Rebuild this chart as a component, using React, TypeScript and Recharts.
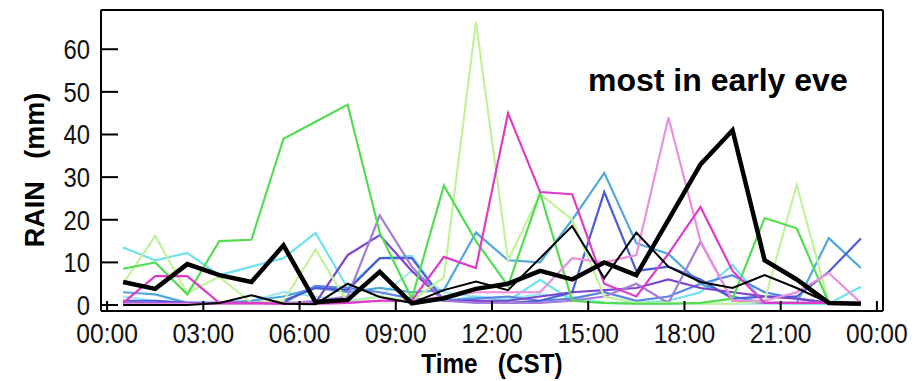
import React from 'react';
import { LineChart, Line, XAxis, YAxis } from 'recharts';

// half-hour centres of each hourly bin
const hours = [0.5, 1.5, 2.5, 3.5, 4.5, 5.5, 6.5, 7.5, 8.5, 9.5, 10.5, 11.5,
  12.5, 13.5, 14.5, 15.5, 16.5, 17.5, 18.5, 19.5, 20.5, 21.5, 22.5, 23.5];

const green = [8.5, 10, 2.5, 15, 15.3, 39, 43, 47, 17, 1.5, 28, 15, 4.5, 26.3, 1, 0.5, 0.3, 0.3, 0.5, 1.5, 20.4, 18, 0.5, 0.3];
const lightGreen = [5, 16.2, 2.8, 6.6, 0.5, 1, 13, 0.5, 2, 1, 6.5, 66.4, 10.5, 26, 20, 2, 0.5, 0.5, 0.3, 0.3, 1, 28.2, 0.5, 0.3];
const cyan = [13.5, 10.5, 12.2, 7, 9, 11, 16.9, 4, 11, 11.5, 1, 2, 1, 5.9, 1, 0.5, 0.5, 1, 3, 9.4, 0.5, 0.3, 0.3, 4.3];
const paleCyan = [2, 1, 0.5, 0.5, 1, 3, 2, 1, 2, 8, 3, 2, 1.5, 2.5, 2, 0.5, 0.3, 0.3, 0.3, 0.3, 0.3, 0.3, 0.3, 0.3];
const lightBlue = [3, 2.5, 0.5, 0.5, 1, 2, 4, 3, 4, 3, 3.5, 17, 10.5, 10, 20, 31, 14.5, 12, 5, 2, 0.5, 0.5, 15.7, 8.7];
const blue = [1, 1, 0.5, 0.5, 0.5, 1, 4, 3.5, 11, 11, 1, 1, 0.5, 1, 3, 26.5, 8, 9, 6, 1.5, 2, 2, 7.8, 15.6];
const blue2 = [0.3, 0.3, 0.3, 0.3, 0.3, 0.5, 4.5, 4, 3, 1.5, 1, 1.5, 2, 1, 1.5, 3, 1, 2, 5, 7, 3, 1.5, 0.5, 0.3];
const purple = [0.5, 0.5, 0.5, 0.3, 0.3, 0.5, 0.5, 11.7, 16.4, 8, 1, 1, 1, 2, 3, 3.5, 4, 6, 4, 3, 2, 1.5, 0.5, 0.5];
const lavender = [0.3, 0.3, 0.3, 0.3, 0.3, 0.3, 1, 2, 21, 9, 1, 0.5, 0.5, 0.5, 1, 2, 5, 0.5, 14.8, 1, 0.5, 0.5, 0.5, 0.3];
const magenta = [0.5, 6.8, 6.8, 0.5, 0.5, 0.3, 0.3, 0.5, 1, 1, 11.3, 8.7, 45, 26.5, 26, 5, 2, 12, 23, 8, 0.5, 0.5, 0.5, 0.3];
const pink = [0.3, 0.3, 0.3, 0.3, 0.3, 0.3, 0.3, 0.5, 1, 1, 2, 3, 3, 3, 11, 10, 11.7, 44, 15, 1, 1, 3, 7.5, 0.5];
const thinBlack = [0, 0, 0, 0.5, 2.3, 0.3, 0.2, 5, 1.9, 0.5, 3.5, 5.5, 3.5, 11, 18.5, 6.3, 17, 9, 5.4, 4, 7, 4, 0.5, 0.3];
const thickBlack = [5.4, 3.8, 9.6, 7, 5.4, 14, 0.7, 1.2, 7.8, 0.4, 1.6, 3.8, 5, 8, 6, 10, 7, 20, 33, 41, 10.5, 6, 0.5, 0.3];

const xTicks = [0, 3, 6, 9, 12, 15, 18, 21, 24];
const yTicks = [0, 10, 20, 30, 40, 50, 60];

const series = [
  { key: 'paleCyan', color: '#9fe9f3', values: paleCyan },
  { key: 'cyan', color: '#6ee2ee', values: cyan },
  { key: 'blue2', color: '#5b84e6', values: blue2 },
  { key: 'lightBlue', color: '#4fa8dc', values: lightBlue },
  { key: 'blue', color: '#4a5cd6', values: blue },
  { key: 'purple', color: '#7b45d0', values: purple },
  { key: 'lavender', color: '#a57cd8', values: lavender },
  { key: 'lightGreen', color: '#c2f29a', values: lightGreen },
  { key: 'green', color: '#52dd52', values: green },
  { key: 'pink', color: '#ec8ee0', values: pink },
  { key: 'magenta', color: '#dc3cc8', values: magenta },
];

const data = hours.map((h, i) => {
  const row: Record<string, number> = { h, thinBlack: thinBlack[i], thickBlack: thickBlack[i] };
  series.forEach(s => { row[s.key] = s.values[i]; });
  return row;
});

const sans = '"Liberation Sans", Arial, sans-serif';
const fmtTime = (v: number) => `${String(v % 24).padStart(2, '0')}:00`;

// condensed tick labels, like the narrow font of the original
const XTick = (props: any) => {
  const { x, y, payload } = props;
  return (
    <g transform={`translate(${x},${y})`}>
      <text transform="scale(0.88,1)" textAnchor="middle" dy="0.71em"
        fontFamily={sans} fontSize={28} fill="#111">{fmtTime(payload.value)}</text>
    </g>
  );
};

const YTick = (props: any) => {
  const { x, y, payload } = props;
  return (
    <g transform={`translate(${x},${y})`}>
      <text transform="scale(0.85,1)" textAnchor="end" dy="0.355em"
        fontFamily={sans} fontSize={28} fill="#111">{payload.value}</text>
    </g>
  );
};

export default function App() {
  return (
    <div style={{ position: 'relative', width: 912, height: 373 }}>
      <LineChart
        width={912}
        height={373}
        data={data}
        margin={{ top: 1, right: 36, bottom: 30, left: 33 }}
      >
        <XAxis
          xAxisId="b"
          dataKey="h"
          type="number"
          domain={[-0.19, 24.19]}
          ticks={xTicks}
          height={40}
          axisLine={{ stroke: '#000', strokeWidth: 2 }}
          tickLine={{ stroke: '#000', strokeWidth: 2 }}
          tickSize={-10}
          tickMargin={22}
          tick={<XTick />}
          interval={0}
        />
        <XAxis
          xAxisId="t"
          orientation="top"
          dataKey="h"
          type="number"
          domain={[-0.19, 24.19]}
          ticks={xTicks}
          height={1}
          axisLine={{ stroke: '#000', strokeWidth: 2 }}
          tickLine={{ stroke: '#000', strokeWidth: 2 }}
          tickSize={-16}
          tick={false}
        />
        <YAxis
          yAxisId="l"
          domain={[-1.4, 69.2]}
          ticks={yTicks}
          width={60}
          axisLine={{ stroke: '#000', strokeWidth: 2 }}
          tickLine={{ stroke: '#000', strokeWidth: 2 }}
          tickSize={-17}
          tickMargin={28}
          tick={<YTick />}
          interval={0}
        />
        <YAxis
          yAxisId="r"
          orientation="right"
          domain={[-1.4, 69.2]}
          ticks={yTicks}
          width={1}
          axisLine={{ stroke: '#000', strokeWidth: 2 }}
          tickLine={{ stroke: '#000', strokeWidth: 2 }}
          tickSize={-17}
          tick={false}
        />
        {series.map(s => (
          <Line
            key={s.key}
            xAxisId="b"
            yAxisId="l"
            type="linear"
            dataKey={s.key}
            stroke={s.color}
            strokeWidth={2.2}
            dot={false}
            isAnimationActive={false}
          />
        ))}
        <Line xAxisId="b" yAxisId="l" type="linear" dataKey="thinBlack" stroke="#000" strokeWidth={2} dot={false} isAnimationActive={false} />
        <Line xAxisId="b" yAxisId="l" type="linear" dataKey="thickBlack" stroke="#000" strokeWidth={4.5} dot={false} isAnimationActive={false} />
      </LineChart>

      <div style={{
        position: 'absolute', left: 27, top: 162, transform: 'translate(-50%, -50%) rotate(-90deg)',
        fontFamily: sans, fontWeight: 'bold', fontSize: 27,
        whiteSpace: 'pre', color: '#000', lineHeight: 1,
      }}>RAIN   (mm)</div>
      <div style={{
        position: 'absolute', left: 484, top: 356, transform: 'translate(-50%, -50%) scaleX(0.9)',
        fontFamily: sans, fontWeight: 'bold', fontSize: 27,
        whiteSpace: 'pre', color: '#000', lineHeight: 1,
      }}>Time   (CST)</div>
      <div style={{
        position: 'absolute', left: 580, top: 56,
        fontFamily: sans, fontWeight: 'bold', fontSize: 32,
        whiteSpace: 'pre', color: '#000', lineHeight: 1,
      }}>most in early eve</div>
    </div>
  );
}
